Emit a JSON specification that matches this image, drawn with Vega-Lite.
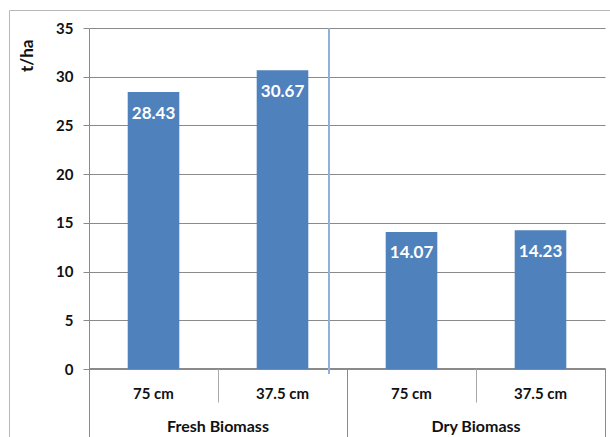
{
  "$schema": "https://vega.github.io/schema/vega-lite/v6.json",
  "width": 602,
  "height": 428,
  "autosize": {"type": "none"},
  "padding": {"left": 9, "top": 10, "right": -1, "bottom": -1},
  "background": "white",
  "config": {
    "view": {"stroke": "#b8b8b8", "strokeWidth": 1},
    "style": {"cell": {"stroke": "#b8b8b8", "strokeWidth": 1}},
    "font": "Lato",
    "axis": {
      "labelFont": "Lato",
      "labelFontWeight": "bold",
      "labelColor": "#111111",
      "labelAngle": 0,
      "titleFont": "Lato",
      "titleFontWeight": "bold",
      "titleColor": "#111111",
      "domainColor": "#8a8a8a",
      "tickColor": "#8a8a8a",
      "gridColor": "#8a8a8a"
    }
  },
  "data": {
    "values": [
      {"id": "Fresh Biomass|75 cm", "biomass": "Fresh Biomass", "spacing": "75 cm", "tha": 28.43},
      {"id": "Fresh Biomass|37.5 cm", "biomass": "Fresh Biomass", "spacing": "37.5 cm", "tha": 30.67},
      {"id": "Dry Biomass|75 cm", "biomass": "Dry Biomass", "spacing": "75 cm", "tha": 14.07},
      {"id": "Dry Biomass|37.5 cm", "biomass": "Dry Biomass", "spacing": "37.5 cm", "tha": 14.23}
    ]
  },
  "resolve": {"axis": {"x": "independent", "y": "independent"}},
  "layer": [
    {
      "mark": {"type": "bar", "color": "#4F81BD", "width": {"band": 0.4}},
      "encoding": {
        "x": {
          "field": "id",
          "type": "nominal",
          "sort": null,
          "scale": {"range": [80, 596], "paddingInner": 0, "paddingOuter": 0},
          "axis": {
            "orient": "bottom",
            "title": null,
            "labels": false,
            "grid": false,
            "offset": -70,
            "tickBand": "extent",
            "tickSize": {
              "condition": {"test": "datum.value === 'Fresh Biomass|75 cm' || datum.value === 'Dry Biomass|75 cm'", "value": 34},
              "value": 70
            },
            "tickColor": {
              "condition": {"test": "datum.value === 'Fresh Biomass|75 cm' || datum.value === 'Dry Biomass|75 cm'", "value": "#a8a8a8"},
              "value": "#8a8a8a"
            }
          }
        },
        "y": {
          "field": "tha",
          "type": "quantitative",
          "scale": {"domain": [0, 35], "range": [359, 18], "nice": false},
          "axis": {
            "orient": "left",
            "title": "t/ha",
            "offset": -80,
            "values": [0, 5, 10, 15, 20, 25, 30, 35],
            "grid": true,
            "tickSize": 6,
            "labelPadding": 10,
            "labelFontSize": 15,
            "titleFontSize": 17,
            "titleAngle": -90,
            "titleAlign": "right",
            "titleBaseline": "middle",
            "titleX": -62,
            "titleY": 29
          }
        }
      }
    },
    {
      "mark": {"type": "text", "color": "white", "font": "Lato", "fontWeight": "bold", "fontSize": 17, "baseline": "top", "dy": 13.5},
      "encoding": {
        "x": {
          "field": "id",
          "type": "nominal",
          "sort": null,
          "axis": {
            "orient": "bottom",
            "title": null,
            "grid": false,
            "domain": false,
            "ticks": false,
            "tickSize": 0,
            "offset": -70,
            "labelAngle": 0,
            "labelPadding": 18,
            "labelFontSize": 15,
            "labelExpr": "split(datum.label, '|')[1]"
          }
        },
        "y": {"field": "tha", "type": "quantitative", "axis": null},
        "text": {"field": "tha", "type": "quantitative", "format": ".2f"}
      }
    },
    {
      "mark": {"type": "rule", "color": "#8fb0da", "strokeWidth": 1.5},
      "encoding": {
        "x": {
          "datum": "Fresh Biomass|37.5 cm",
          "type": "nominal",
          "bandPosition": 0.86,
          "axis": {
            "orient": "bottom",
            "title": null,
            "grid": false,
            "domain": false,
            "ticks": false,
            "tickSize": 0,
            "offset": -70,
            "labelAngle": 0,
            "values": ["Fresh Biomass|37.5 cm", "Dry Biomass|37.5 cm"],
            "labelOffset": -64.5,
            "labelPadding": 50,
            "labelFontSize": 16,
            "labelExpr": "split(datum.label, '|')[0]"
          }
        },
        "y": {"datum": 35, "type": "quantitative", "axis": null},
        "y2": {"datum": -0.5}
      }
    }
  ]
}
